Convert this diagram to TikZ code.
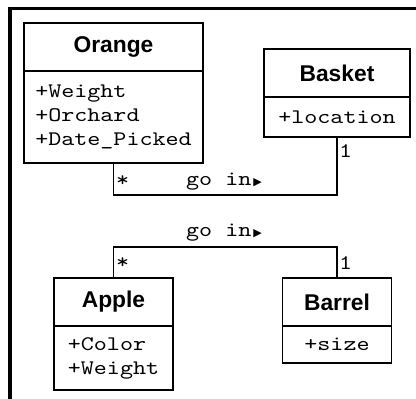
\documentclass[tikz,border=0pt]{standalone}
\usepackage{fontspec}
\usetikzlibrary{positioning}
\newfontfamily\headfont{Liberation Sans}
\newfontfamily\attrfont{lmmono10-regular}[Extension=.otf, FakeStretch=1.2]
\newfontfamily\symfont{DejaVu Sans}
\tikzset{
	classhead/.style={draw, line width=1.2pt, outer sep=0pt, minimum height=48pt, font=\headfont\bfseries\fontsize{22.8}{26}\selectfont},
	classbody/.style={draw, line width=1.2pt, outer sep=0pt, align=left, inner sep=0pt, font=\attrfont\fontsize{20.7}{24}\selectfont},
	mult/.style={inner sep=0pt, anchor=base west, font=\attrfont\fontsize{20.7}{24}\selectfont}
}
\newcommand{\goin}{go in\kern2pt{\symfont\fontsize{11}{24}\selectfont ▶}}

\begin{document}
\begin{tikzpicture}[x=1pt, y=1pt]
		%%%%% START %%%%%
		\useasboundingbox (0, 0) rectangle (416, 399);
		\draw[line width=3.2pt] (10, 0) -- (10, 390.7) -- (416, 390.7);
		
		\node[classhead, minimum width=179] (orange) at (113.5, 352) {Orange};
		\node[classbody, minimum width=179, minimum height=92, below=0pt of orange] (orangeattr) {+Weight\\+Orchard\\+Date\_Picked};
		
		\node[classhead, minimum width=146] (basket) at (337, 326) {Basket};
		\node[classbody, minimum width=146, minimum height=40, below=0pt of basket] (basketattr) {+location};
		
		\node[classhead, minimum width=119] (apple) at (113.5, 97) {Apple};
		\node[classbody, minimum width=119, minimum height=64, below=0pt of apple] (appleattr) {+Color\\+Weight};
		
		\node[classhead, minimum width=109] (barrel) at (337, 97) {Barrel};
		\node[classbody, minimum width=109, minimum height=37, below=0pt of barrel] (barrelattr) {+size};
		
		\draw[line width=1.2pt] (orangeattr.south) -- ++(0, -32) -| (basketattr.south);
		\node[mult] (orangemult) at (116, 212) {*};
		\node[mult] (basketmult) at (339, 241) {1};
		\node[mult] (goinone) at (186, 213) {\goin};
		
		\draw[line width=1.2pt] (apple.north) -- ++(0, 31) -| (barrel.north);
		\node[mult] (applemult) at (116, 130) {*};
		\node[mult] (barrelmult) at (339, 129) {1};
		\node[mult] (gointwo) at (186, 162) {\goin};
		%%%%% END %%%%%
	\end{tikzpicture}
\end{document}
